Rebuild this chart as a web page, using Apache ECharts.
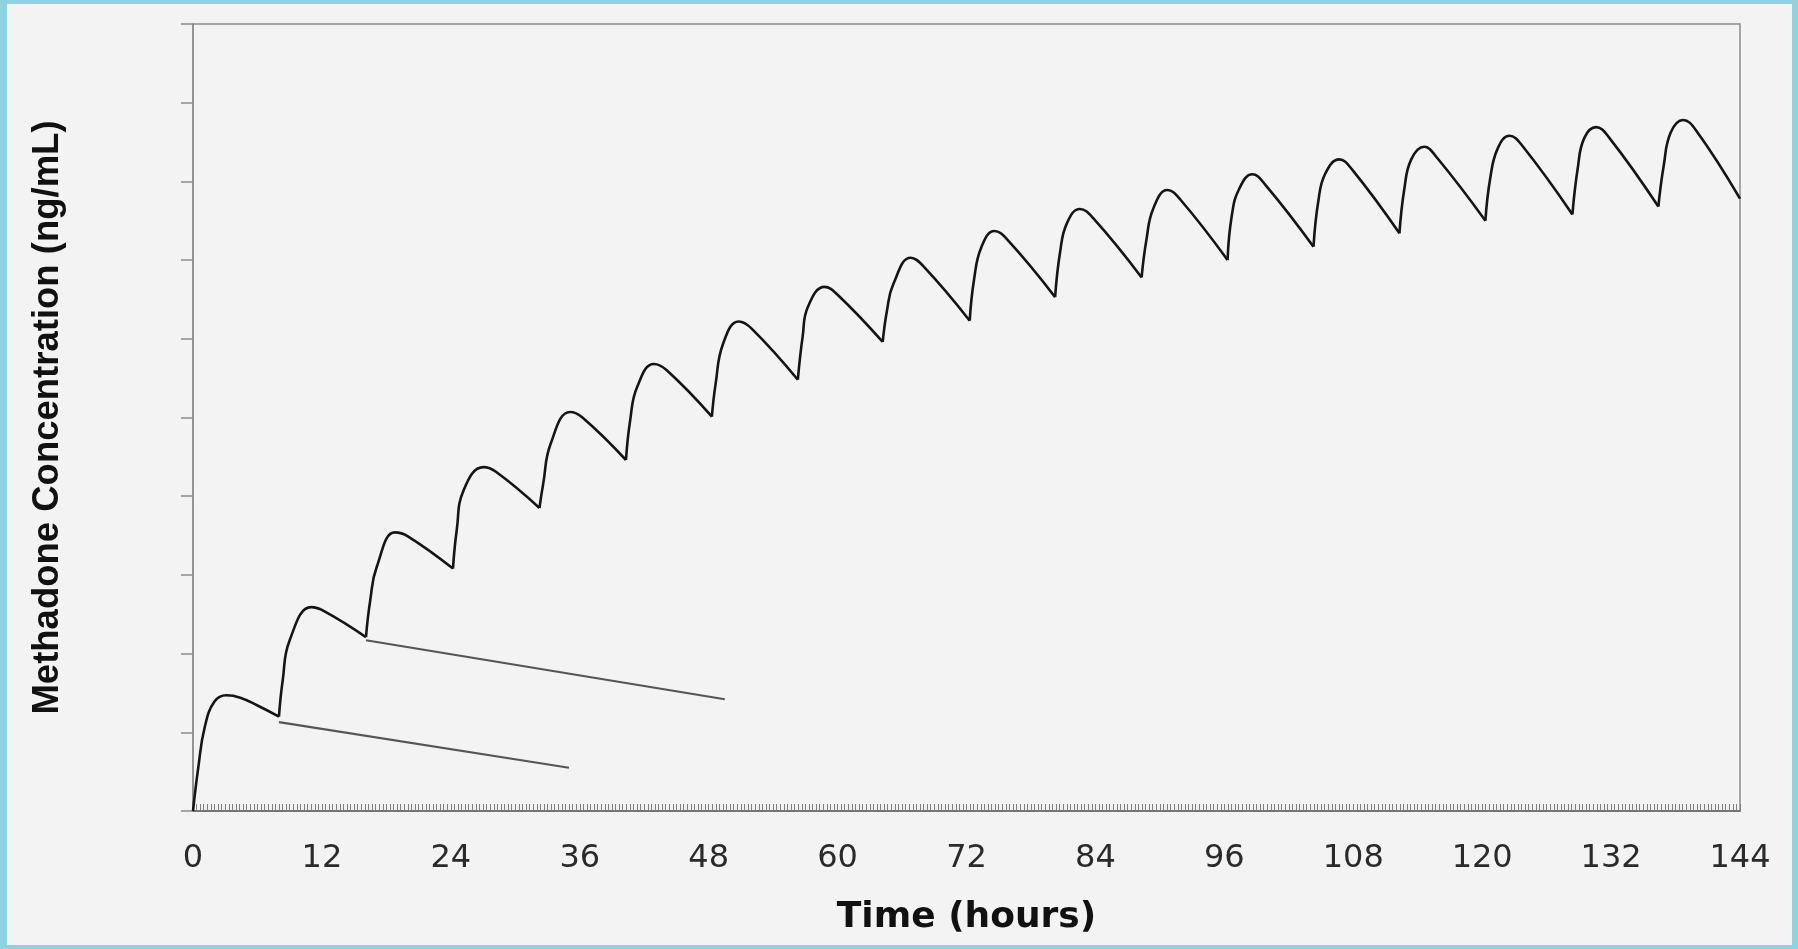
<!DOCTYPE html>
<html>
<head>
<meta charset="utf-8">
<script src="https://cdn.jsdelivr.net/npm/echarts@6/dist/echarts.min.js"></script>
<style>
  html, body { margin: 0; padding: 0; width: 1798px; height: 949px; overflow: hidden; background: #8fd2e2; }
  #panel { position: absolute; left: 7px; top: 4px; width: 1785px; height: 941px; background: #f3f3f3; }
  #chart { position: absolute; left: 0; top: 0; width: 1798px; height: 949px; }
</style>
</head>
<body>
<div id="panel"></div>
<div id="chart"></div>
<script>
// ---- data ----
const xTickLabels = [0, 12, 24, 36, 48, 60, 72, 84, 96, 108, 120, 132, 144];
// times of the troughs (dose moments) as they sit in the picture, plus the end of the curve
const doseHours = [0, 8.0, 16.1, 24.2, 32.25, 40.3, 48.3, 56.3, 64.2, 72.3, 80.25, 88.3, 96.3, 104.3, 112.3, 120.3, 128.4, 136.4, 144];

// concentration curve (hours, relative concentration; the y axis carries no numbers)
const hours = [
  0, 0.5, 1.1, 2.0, 3.1, 4.4, 6.0, 8.0,
  8.35, 9.0, 11.0, 12.2, 16.1,
  16.5, 17.1, 18.8, 20.0, 24.2,
  24.55, 25.2, 27.05, 28.2, 32.25,
  32.6, 33.3, 35.1, 36.25, 40.3,
  40.7, 41.35, 42.9, 44.1, 48.3,
  48.65, 49.35, 50.8, 52.0, 56.3,
  56.75, 57.25, 58.8, 60.0, 64.2,
  64.6, 65.2, 66.8, 68.0, 72.3,
  72.7, 73.4, 74.6, 75.8, 80.25,
  80.7, 81.35, 82.55, 83.75, 88.3,
  88.75, 89.4, 90.7, 91.9, 96.3,
  96.7, 97.4, 98.6, 99.8, 104.3,
  104.75, 105.4, 106.7, 107.9, 112.3,
  112.75, 113.4, 114.6, 115.8, 120.3,
  120.75, 121.45, 122.55, 123.7, 128.4,
  128.9, 129.5, 130.6, 131.8, 136.4,
  136.9, 137.55, 138.7, 139.9, 144
];
const conc = [
  0, 5.6, 10.7, 13.9, 14.7, 14.4, 13.4, 12.0,
  16.6, 21.7, 25.9, 25.4, 22.1,
  26.8, 31.0, 35.4, 34.9, 30.8,
  35.7, 40.8, 43.7, 43.1, 38.5,
  41.6, 46.7, 50.7, 50.0, 44.6,
  49.7, 53.9, 56.8, 56.0, 50.1,
  54.3, 59.4, 62.2, 61.3, 54.8,
  60.3, 64.1, 66.6, 65.6, 59.6,
  63.6, 67.0, 70.3, 69.2, 62.3,
  67.5, 71.7, 73.7, 72.6, 65.3,
  70.9, 74.7, 76.5, 75.4, 67.8,
  72.6, 76.6, 78.9, 77.7, 70.0,
  75.7, 79.1, 80.9, 79.6, 71.7,
  77.5, 81.0, 82.8, 81.5, 73.4,
  79.0, 82.8, 84.4, 83.0, 75.0,
  80.4, 84.2, 85.8, 84.6, 75.8,
  81.7, 85.5, 86.9, 85.6, 76.8,
  82.0, 86.2, 87.8, 86.5, 77.8
];

// straight decline lines drawn from the 2nd and 3rd dose troughs
const declineAHours = [8, 35];
const declineAConc = [11.3, 5.5];
const declineBHours = [16.1, 49.5];
const declineBConc = [21.7, 14.2];

// ---- build series: one smoothed piece per dosing interval so troughs stay sharp ----
const series = [];
for (let k = 0; k < doseHours.length - 1; k++) {
  const d0 = doseHours[k], d1 = doseHours[k + 1];
  const seg = [];
  for (let i = 0; i < hours.length; i++) {
    if (hours[i] >= d0 && hours[i] <= d1) seg.push([hours[i], conc[i]]);
  }
  series.push({
    type: 'line', data: seg, smooth: 0.45, symbol: 'none', silent: true,
    lineStyle: { color: '#151515', width: 2.6 }, z: 3
  });
}
function straight(hs, cs) {
  return {
    type: 'line', data: hs.map((h, i) => [h, cs[i]]), symbol: 'none', silent: true,
    lineStyle: { color: '#555555', width: 2.2 }, z: 2
  };
}
series.push(straight(declineAHours, declineAConc));
series.push(straight(declineBHours, declineBConc));

const chart = echarts.init(document.getElementById('chart'), null, { renderer: 'canvas' });
chart.setOption({
  backgroundColor: 'transparent',
  animation: false,
  grid: {
    left: 193, top: 24, width: 1547, height: 787,
    show: true, borderColor: '#8c8c8c', borderWidth: 1.5, backgroundColor: 'transparent'
  },
  xAxis: {
    type: 'value', min: 0, max: 144, interval: 12,
    name: 'Time (hours)', nameLocation: 'middle', nameGap: 89,
    nameTextStyle: { fontFamily: 'DejaVu Sans', fontWeight: 'bold', fontSize: 36, color: '#111' },
    axisLine: { show: true, lineStyle: { color: '#666666', width: 1.5 } },
    axisTick: { show: true, inside: true, length: 7, lineStyle: { color: '#7e7e7e', width: 1 } },
    minorTick: { show: true, splitNumber: 36, length: 7, lineStyle: { color: '#7e7e7e', width: 1 } },
    splitLine: { show: false },
    axisLabel: {
      margin: 32, fontFamily: 'DejaVu Sans', fontSize: 32, color: '#2a2a2a',
      formatter: v => (xTickLabels.indexOf(v) >= 0 ? String(v) : '')
    }
  },
  yAxis: {
    type: 'value', min: 0, max: 100, interval: 10,
    name: 'Methadone Concentration (ng/mL)', nameLocation: 'middle', nameGap: 127,
    nameTextStyle: { fontFamily: 'Liberation Sans', fontWeight: 'bold', fontSize: 36.5, color: '#111' },
    axisLine: { show: true, lineStyle: { color: '#8c8c8c', width: 1.5 } },
    axisTick: { show: true, inside: false, length: 12, lineStyle: { color: '#8c8c8c', width: 1.5 } },
    axisLabel: { show: false },
    splitLine: { show: false }
  },
  series: series
});
</script>
</body>
</html>
